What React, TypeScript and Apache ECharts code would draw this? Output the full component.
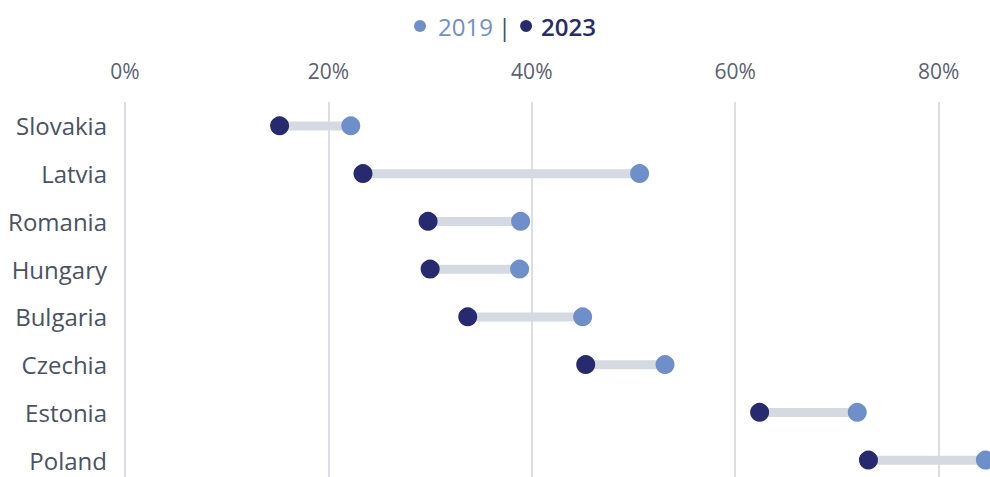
import React, { useEffect, useRef } from "react";
import * as echarts from "echarts";

const countries = ["Slovakia", "Latvia", "Romania", "Hungary", "Bulgaria", "Czechia", "Estonia", "Poland"];
const values2019 = [22.2, 50.6, 38.9, 38.8, 45.0, 53.1, 72.0, 84.6];
const values2023 = [15.2, 23.4, 29.8, 30.0, 33.7, 45.3, 62.4, 73.1];
const xTicks = [0, 20, 40, 60, 80, 100];

export default function App() {
  const ref = useRef<HTMLDivElement>(null);
  useEffect(() => {
    if (!ref.current) return;
    const chart = echarts.init(ref.current, undefined, { renderer: "svg" });
    const base = countries.map((_, i) => Math.min(values2019[i], values2023[i]));
    const span = countries.map((_, i) => Math.abs(values2019[i] - values2023[i]));
    const font = "'Open Sans', sans-serif";
    chart.setOption({
      animation: false,
      textStyle: { fontFamily: font },
      title: {
        left: 414,
        top: 14,
        padding: 0,
        text: "{d1| }{g1| }{a|2019}{g2| }{s||}{g3| }{d2| }{g4| }{b|2023}",
        textStyle: {
          fontWeight: "normal",
          rich: {
            d1: { width: 12, height: 12, borderRadius: 6, backgroundColor: "#6f8fca", fontSize: 10 },
            g1: { width: 12, fontSize: 10 },
            a: { color: "#6f8fca", fontSize: 24, fontWeight: 500, fontFamily: font },
            g2: { width: 5, fontSize: 10 },
            s: { color: "#4a4f5c", fontSize: 24, fontWeight: 500, fontFamily: font },
            g3: { width: 9, fontSize: 10 },
            d2: { width: 12, height: 12, borderRadius: 6, backgroundColor: "#272a6f", fontSize: 10 },
            g4: { width: 9, fontSize: 10 },
            b: { color: "#272a6f", fontSize: 24, fontWeight: 600, fontFamily: font },
          },
        },
      },
      grid: { left: 125, top: 102, width: 1017, height: 382, containLabel: false, outerBoundsMode: "none" },
      xAxis: {
        type: "value",
        position: "top",
        min: xTicks[0],
        max: xTicks[xTicks.length - 1],
        interval: 20,
        axisLine: { show: false },
        axisTick: { show: false },
        splitLine: { show: true, lineStyle: { color: "#dcdde6", width: 2 } },
        axisLabel: {
          formatter: (v: number) => `${v}%`,
          color: "#5b6170",
          fontSize: 21,
          fontFamily: font,
          margin: 21,
          showMaxLabel: false,
        },
      },
      yAxis: {
        type: "category",
        data: countries,
        inverse: true,
        axisLine: { show: false },
        axisTick: { show: false },
        axisLabel: { color: "#4b5262", fontSize: 24, fontFamily: font, margin: 18 },
      },
      series: [
        {
          type: "bar",
          stack: "r",
          data: base,
          barWidth: 9,
          itemStyle: { color: "transparent" },
          silent: true,
        },
        {
          type: "bar",
          stack: "r",
          data: span,
          barWidth: 9,
          itemStyle: { color: "#d5d9e2" },
          silent: true,
        },
        {
          type: "scatter",
          name: "2019",
          data: values2019,
          symbol: "circle",
          symbolSize: 19,
          itemStyle: { color: "#6f8fca", opacity: 1 },
          z: 5,
        },
        {
          type: "scatter",
          name: "2023",
          data: values2023,
          symbol: "circle",
          symbolSize: 19,
          itemStyle: { color: "#272a6f", opacity: 1 },
          z: 6,
        },
      ],
    });
    return () => chart.dispose();
  }, []);
  return (
    <div
      ref={ref}
      style={{ position: "fixed", left: 0, top: 0, width: 990, height: 477, background: "#fff" }}
    />
  );
}
